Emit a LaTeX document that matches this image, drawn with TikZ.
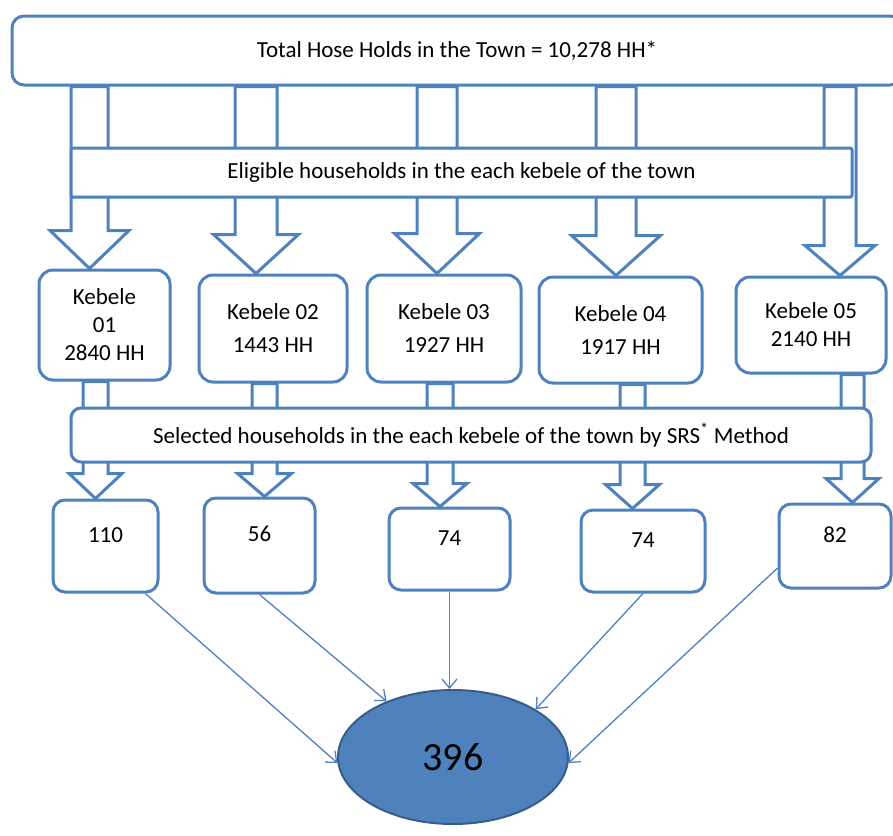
\documentclass[tikz,border=0pt]{standalone}
\usepackage{fontspec}
\setmainfont{Carlito}
\usetikzlibrary{shapes.geometric,calc,backgrounds,arrows.meta}
\definecolor{officeblue}{HTML}{4F81BD}
\definecolor{darkblue}{HTML}{385D8A}

% hollow block arrow: start, tip, shaft half width, head half width, head length
\newcommand\fatarrow[5]{%
  \draw[fat] let \p1=(#1), \p2=(#2) in
    (\x1-#3,\y1) -- (\x1-#3,\y2+#5) -- (\x1-#4,\y2+#5) -- (\x1,\y2)
    -- (\x1+#4,\y2+#5) -- (\x1+#3,\y2+#5) -- (\x1+#3,\y1) -- cycle;}

\begin{document}
\begin{tikzpicture}[x=1pt,y=-1pt,
    font=\fontsize{23}{28}\selectfont,
    box/.style={draw=officeblue,line width=3pt,fill=white,rounded corners=#1,align=center,inner sep=0pt},
    box/.default=14pt,
    numbox/.style={box=12pt,text height=14pt,text depth=22pt},
    fat/.style={draw=officeblue,line width=3pt,fill=white,line join=miter},
    thin arrow/.style={draw=officeblue,line width=1.3pt,-{Straight Barb[length=9pt,width=15pt]}}]
    \useasboundingbox (0,0) rectangle (893,835);

    \node[box=12pt,minimum width=890,minimum height=69] (top) at (457,50.5) {Total Hose Holds in the Town = 10,278 HH*};
    \node[box=2pt,minimum width=781,minimum height=49] (elig) at (461.5,172.5) {Eligible households in the each kebele of the town};

    \node[box,minimum width=131,minimum height=110] (k1) at (104.5,325) {Kebele\\01\\2840 HH};
    \node[box,minimum width=148,minimum height=107] (k2) at (273,328.5) {Kebele 02\\[5pt]1443 HH};
    \node[box,minimum width=154,minimum height=107] (k3) at (444,328.5) {Kebele 03\\[5pt]1927 HH};
    \node[box,minimum width=163,minimum height=106] (k4) at (620.5,330) {Kebele 04\\[5pt]1917 HH};
    \node[box,minimum width=150,minimum height=96] (k5) at (811,325) {Kebele 05\\2140 HH};

    \node[box=10pt,minimum width=800,minimum height=54] (sel) at (471,435) {Selected households in the each kebele of the town by SRS\textsuperscript{*} Method};

    \node[numbox,minimum width=105,minimum height=92] (b1) at (105.5,546) {110};
    \node[numbox,minimum width=111,minimum height=95] (b2) at (259.5,545.5) {56};
    \node[numbox,minimum width=121,minimum height=82] (b3) at (449.5,549) {74};
    \node[numbox,minimum width=124,minimum height=82] (b4) at (643,551) {74};
    \node[numbox,minimum width=112,minimum height=84] (b5) at (835,546) {82};

    \node[ellipse,draw=darkblue,fill=officeblue,line width=2pt,minimum width=230,minimum height=134,
        inner sep=0pt,font=\fontsize{40}{48}\selectfont] (tot) at (453,757) {396};

    \coordinate (u1) at (89.5,0);
    \coordinate (u2) at (256,0);
    \coordinate (u3) at (437,0);
    \coordinate (u4) at (616,0);
    \coordinate (u5) at (840,0);
    \coordinate (v1) at (95.5,0);
    \coordinate (v2) at (264.5,0);
    \coordinate (v3) at (440,0);
    \coordinate (v4) at (632.5,0);
    \coordinate (v5) at (852.5,0);

    \begin{scope}[on background layer]
    \fatarrow{u1 |- top.south}{u1 |- k1.north}{18.5pt}{39.5pt}{38pt}
    \fatarrow{u2 |- top.south}{u2 |- k2.north}{21pt}{42.5pt}{39pt}
    \fatarrow{u3 |- top.south}{u3 |- k3.north}{20pt}{42.5pt}{40pt}
    \fatarrow{u4 |- top.south}{u4 |- k4.north}{20pt}{44.5pt}{40pt}
    \fatarrow{u5 |- top.south}{u5 |- k5.north}{16pt}{35pt}{30pt}
    \fatarrow{v1 |- k1.south}{v1 |- b1.north}{12.5pt}{26.5pt}{25pt}
    \fatarrow{v2 |- k2.south}{v2 |- b2.north}{12.5pt}{27pt}{23pt}
    \fatarrow{v3 |- k3.south}{v3 |- b3.north}{13pt}{27pt}{23pt}
    \fatarrow{v4 |- k4.south}{v4 |- b4.north}{12.5pt}{27pt}{24pt}
    \fatarrow{v5 |- k5.south}{v5 |- b5.north}{11.5pt}{26.5pt}{24pt}
    \end{scope}

    \draw[thin arrow] (b1.-50) -- (tot.183);
    \draw[thin arrow] (b2.south) -- (tot.140);
    \draw[thin arrow] (b3.south) -- (b3.south |- tot.north);
    \draw[thin arrow] (b4.south) -- (tot.30);
    \draw[thin arrow] (b5.201) -- (tot.-3);
\end{tikzpicture}
\end{document}
